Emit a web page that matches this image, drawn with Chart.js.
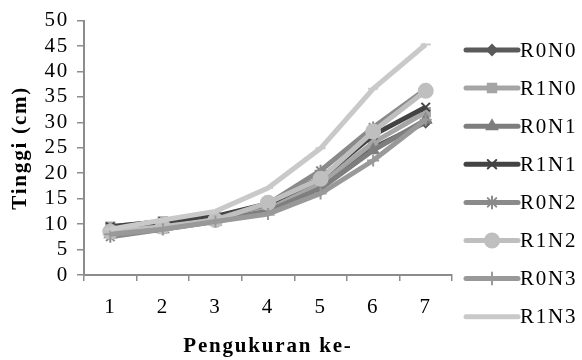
<!DOCTYPE html>
<html>
<head>
<meta charset="utf-8">
<script src="https://cdn.jsdelivr.net/npm/chart.js@4"></script>
<style>
  html, body { margin: 0; padding: 0; background: #fff; }
  #wrap { width: 582px; height: 360px; }
</style>
</head>
<body>
<div id="wrap"><canvas id="c" width="582" height="360"></canvas></div>
<script>
// Measurement number (x axis)
const categories = ['1', '2', '3', '4', '5', '6', '7'];

// Plant height (cm) per treatment
const R0N0 = [9, 9.8, 11, 13, 17.5, 25, 30];
const R1N0 = [9.5, 10.5, 11.5, 13.5, 18, 26, 32];
const R0N1 = [8, 9, 10.5, 12.5, 17, 24.5, 30.5];
const R1N1 = [9.5, 10.5, 11.5, 14, 19, 27.5, 33];
const R0N2 = [7.5, 9, 11, 14, 20.5, 29, 36.5];
const R1N2 = [8.5, 9.5, 10.8, 14.2, 18.9, 28.2, 36.2];
const R0N3 = [8, 9, 10.5, 12, 16, 22.5, 30.5];
const R1N3 = [9, 10.8, 12.5, 17.1, 24.9, 36.6, 45.3];

const seriesNames = ['R0N0', 'R1N0', 'R0N1', 'R1N1', 'R0N2', 'R1N2', 'R0N3', 'R1N3'];
const seriesValues = [R0N0, R1N0, R0N1, R1N1, R0N2, R1N2, R0N3, R1N3];

const styles = [
  { color: '#5a5a5a', point: 'rectRot', r: 5 },
  { color: '#a5a5a5', point: 'rect', r: 6 },
  { color: '#7e7e7e', point: 'triangle', r: 6 },
  { color: '#434343', point: 'crossRot', r: 6 },
  { color: '#8a8a8a', point: 'star', r: 6 },
  { color: '#bfbfbf', point: 'circle', r: 7 },
  { color: '#999999', point: 'cross', r: 6 },
  { color: '#c9c9c9', point: 'line', r: 5 }
];

const FONT = '"Liberation Serif", "Times New Roman", serif';
const FONT_SIZE = 21;
const SPACING = '1.8px';

const datasets = seriesNames.map((name, i) => ({
  label: name,
  data: seriesValues[i],
  borderColor: styles[i].color,
  backgroundColor: styles[i].color,
  pointBorderColor: styles[i].color,
  pointBackgroundColor: styles[i].color,
  borderWidth: 5,
  pointStyle: styles[i].point,
  pointRadius: styles[i].r,
  pointBorderWidth: 2,
  tension: 0,
  order: -i
}));

// Wide letter spacing for every text drawn on the canvas
const spacedText = {
  id: 'spacedText',
  beforeInit(chart) { chart.ctx.letterSpacing = SPACING; },
  beforeLayout(chart) { chart.ctx.letterSpacing = SPACING; },
  beforeDraw(chart) { chart.ctx.letterSpacing = SPACING; }
};

// Legend drawn at the right: a thick line sample with its marker, then the name
const sideLegend = {
  id: 'sideLegend',
  afterDraw(chart) {
    const ctx = chart.ctx;
    ctx.save();
    ctx.letterSpacing = SPACING;
    chart.data.datasets.forEach((ds, i) => {
      const y = 50 + i * 38.1;
      ctx.strokeStyle = ds.borderColor;
      ctx.lineWidth = 5;
      ctx.lineCap = 'round';
      ctx.beginPath();
      ctx.moveTo(466, y);
      ctx.lineTo(518, y);
      ctx.stroke();
      if (ds.pointStyle !== 'line') {
        ctx.fillStyle = ds.pointBackgroundColor;
        ctx.strokeStyle = ds.pointBorderColor;
        ctx.lineWidth = 2;
        Chart.helpers.drawPoint(ctx, {
          pointStyle: ds.pointStyle,
          radius: ds.pointRadius,
          borderWidth: 2,
          rotation: 0
        }, 492, y);
      }
      ctx.fillStyle = '#000';
      ctx.font = FONT_SIZE + 'px ' + FONT;
      ctx.textAlign = 'left';
      ctx.textBaseline = 'middle';
      ctx.fillText(ds.label, 520, y + 1);
    });
    ctx.restore();
  }
};

new Chart(document.getElementById('c'), {
  type: 'line',
  data: { labels: categories, datasets },
  plugins: [spacedText, sideLegend],
  options: {
    responsive: false,
    animation: false,
    devicePixelRatio: 1,
    layout: { padding: { top: 18, right: 130, bottom: 0, left: 0 } },
    plugins: { legend: { display: false }, tooltip: { enabled: false } },
    scales: {
      x: {
        type: 'category',
        offset: true,
        afterFit(scale) { scale.height = 85; },
        grid: {
          offset: true,
          drawOnChartArea: false,
          drawTicks: true,
          tickLength: 6,
          color: '#8c8c8c',
          lineWidth: 1.5
        },
        border: { color: '#8c8c8c', width: 2 },
        ticks: { color: '#000', font: { family: FONT, size: FONT_SIZE }, padding: 14, maxRotation: 0, autoSkip: false },
        title: {
          display: true,
          text: 'Pengukuran ke-',
          color: '#000',
          font: { family: FONT, size: FONT_SIZE, weight: 'bold' },
          padding: { top: 0, bottom: 1 }
        }
      },
      y: {
        min: 0,
        max: 50,
        afterFit(scale) { scale.width = 84; },
        grid: {
          drawOnChartArea: false,
          drawTicks: true,
          tickLength: 7,
          color: '#8c8c8c',
          lineWidth: 1.5
        },
        border: { color: '#8c8c8c', width: 2 },
        ticks: { stepSize: 5, autoSkip: false, color: '#000', font: { family: FONT, size: FONT_SIZE }, padding: 8 },
        title: {
          display: true,
          text: 'Tinggi (cm)',
          color: '#000',
          font: { family: FONT, size: FONT_SIZE, weight: 'bold' },
          padding: { top: 8, bottom: 0 }
        }
      }
    }
  }
});
</script>
</body>
</html>
